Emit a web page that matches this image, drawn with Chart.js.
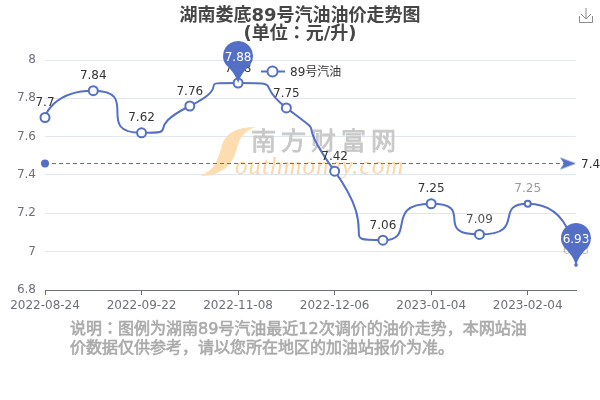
<!DOCTYPE html>
<html>
<head>
<meta charset="utf-8">
<title>湖南娄底89号汽油油价走势图</title>
<script src="https://cdn.jsdelivr.net/npm/chart.js@4/dist/chart.umd.js"></script>
<style>
    html, body { margin: 0; padding: 0; background: #fff; }
    canvas { display: block; }
</style>
</head>
<body>
<canvas id="oil-chart" width="600" height="400"></canvas>
<script>
// chart values
const dateLabels = ['2022-08-24', '', '2022-09-22', '', '2022-11-08', '', '2022-12-06', '', '2023-01-04', '', '2023-02-04', ''];
const priceValues = [7.7, 7.84, 7.62, 7.76, 7.88, 7.75, 7.42, 7.06, 7.25, 7.09, 7.25, 6.93];
const meanValues = [7.46, 7.46, 7.46, 7.46, 7.46, 7.46, 7.46, 7.46, 7.46, 7.46, 7.46, 7.46];
const meanLabel = '7.46';
const seriesName = '89号汽油';
const titleLines = ['湖南娄底89号汽油油价走势图', '(单位：元/升)'];
const noteLines = ['说明：图例为湖南89号汽油最近12次调价的油价走势，本网站油', '价数据仅供参考，请以您所在地区的加油站报价为准。'];

const BLUE = '#5470c6';
const FONT = '"DejaVu Sans", "Noto Sans CJK JP", sans-serif';
const SMOOTH = 1;
const maxIndex = priceValues.indexOf(Math.max(...priceValues));
const minIndex = priceValues.indexOf(Math.min(...priceValues));

// last points were still fading in on the reference
const labelAlpha = [1, 1, 1, 1, 1, 1, 1, 1, 1, 0.85, 0.5, 0.3];
const pointSizes = [4.5, 4.5, 4.5, 4.5, 4.5, 4.5, 4.5, 4.5, 4.5, 4.5, 3, 0.8];

function clamp(v, a, b) {
    return Math.max(Math.min(a, b), Math.min(v, Math.max(a, b)));
}

// arrow head for the end of the mean line, tip sits on the centre of the image
function makeArrow() {
    const c = document.createElement('canvas');
    c.width = 40;
    c.height = 16;
    const g = c.getContext('2d');
    g.fillStyle = BLUE;
    g.beginPath();
    g.moveTo(20, 8);
    g.lineTo(4, 2);
    g.lineTo(8, 8);
    g.lineTo(4, 14);
    g.closePath();
    g.fill();
    return c;
}
const arrowImage = makeArrow();

// same curve rule as the source chart: control points held between the neighbours
const smoothPlugin = {
    id: 'smoothPlugin',
    beforeDatasetsDraw(chart) {
        const meta = chart.getDatasetMeta(0);
        meta.dataset.updateControlPoints(chart.chartArea, 'x');
        const pts = meta.data;
        pts.forEach((p, i) => {
            // both ends of the line get no handle
            if (i === 0 || i === pts.length - 1) {
                p.cp1x = p.x; p.cp1y = p.y; p.cp2x = p.x; p.cp2y = p.y;
                return;
            }
            const prev = pts[i - 1];
            const next = pts[i + 1];
            const lenPrev = Math.hypot(p.x - prev.x, p.y - prev.y);
            const lenNext = Math.hypot(next.x - p.x, next.y - p.y);
            const ratio = lenNext / (lenPrev + lenNext);
            const vx = next.x - prev.x;
            const vy = next.y - prev.y;
            let ox = clamp(p.x + vx * SMOOTH * ratio, p.x, next.x);
            let oy = clamp(p.y + vy * SMOOTH * ratio, p.y, next.y);
            const ix = clamp(p.x - (ox - p.x) * lenPrev / lenNext, p.x, prev.x);
            const iy = clamp(p.y - (oy - p.y) * lenPrev / lenNext, p.y, prev.y);
            ox = p.x + (p.x - ix) * lenNext / lenPrev;
            oy = p.y + (p.y - iy) * lenNext / lenPrev;
            p.cp1x = ix; p.cp1y = iy; p.cp2x = ox; p.cp2y = oy;
        });
    }
};

// title is centred on the whole canvas, not on the padded area
const titlePlugin = {
    id: 'titlePlugin',
    afterLayout(chart) {
        chart.titleBlock.left = 0;
        chart.titleBlock.right = 600;
    }
};

// southmoney logo behind the lines
const watermarkPlugin = {
    id: 'watermarkPlugin',
    beforeDatasetsDraw(chart) {
        const ctx = chart.ctx;
        ctx.save();
        ctx.fillStyle = '#fddcb0';
        ctx.beginPath();
        ctx.moveTo(200, 176);
        ctx.bezierCurveTo(215, 170, 218, 160, 222, 145);
        ctx.bezierCurveTo(226, 132, 238, 127, 256, 127);
        ctx.bezierCurveTo(246, 130, 240, 136, 237, 148);
        ctx.bezierCurveTo(233, 165, 222, 176, 200, 176);
        ctx.fill();
        ctx.textAlign = 'left';
        ctx.textBaseline = 'alphabetic';
        ctx.font = 'italic 25px "Liberation Serif", serif';
        ctx.letterSpacing = '1px';
        ctx.fillStyle = '#fcd6a4';
        ctx.fillText('outhmoney.com', 235, 174);
        ctx.font = '25px ' + FONT;
        ctx.letterSpacing = '5px';
        ctx.fillStyle = '#c8c8c8';
        ctx.strokeStyle = '#c8c8c8';
        ctx.lineWidth = 0.8;
        ctx.fillText('南方财富网', 251, 150);
        ctx.strokeText('南方财富网', 251, 150);
        ctx.restore();
    }
};

function drawPin(ctx, x, y, text) {
    const r = 15;
    const cy = y - 27;
    ctx.fillStyle = BLUE;
    ctx.beginPath();
    ctx.arc(x, cy, r, Math.PI * 0.8, Math.PI * 0.2);
    ctx.quadraticCurveTo(x + 3, cy + 17, x, y);
    ctx.quadraticCurveTo(x - 3, cy + 17, x - r * Math.cos(Math.PI * 0.2), cy + r * Math.sin(Math.PI * 0.2));
    ctx.closePath();
    ctx.fill();
    ctx.fillStyle = '#fff';
    ctx.font = '12px ' + FONT;
    ctx.textAlign = 'center';
    ctx.textBaseline = 'middle';
    ctx.fillText(text, x, cy + 2);
}

// value labels, pins, legend, note and the save icon
const decorPlugin = {
    id: 'decorPlugin',
    afterDatasetsDraw(chart) {
        const ctx = chart.ctx;
        const xScale = chart.scales.x;
        const yScale = chart.scales.y;
        ctx.save();

        ctx.font = '12px ' + FONT;
        ctx.textAlign = 'center';
        ctx.textBaseline = 'middle';
        ctx.fillStyle = '#333';
        priceValues.forEach((v, i) => {
            ctx.globalAlpha = labelAlpha[i];
            ctx.fillText(String(v), xScale.getPixelForValue(i), yScale.getPixelForValue(v) - 14.5);
        });
        ctx.globalAlpha = 1;

        ctx.textAlign = 'left';
        ctx.fillText(meanLabel, xScale.right + 5, yScale.getPixelForValue(meanValues[0]) + 1);

        drawPin(ctx, xScale.getPixelForValue(maxIndex), yScale.getPixelForValue(priceValues[maxIndex]), String(priceValues[maxIndex]));
        drawPin(ctx, xScale.getPixelForValue(minIndex), yScale.getPixelForValue(priceValues[minIndex]), String(priceValues[minIndex]));

        // legend
        ctx.strokeStyle = BLUE;
        ctx.lineWidth = 2;
        ctx.beginPath();
        ctx.moveTo(261, 71.5);
        ctx.lineTo(285, 71.5);
        ctx.stroke();
        ctx.fillStyle = '#fff';
        ctx.beginPath();
        ctx.arc(272.5, 71.5, 5, 0, Math.PI * 2);
        ctx.fill();
        ctx.stroke();
        ctx.fillStyle = '#333';
        ctx.font = '12px ' + FONT;
        ctx.textAlign = 'left';
        ctx.fillText(seriesName, 290, 73);

        // note under the chart, thin stroke thickens the regular weight
        ctx.fillStyle = '#aaa';
        ctx.strokeStyle = '#aaa';
        ctx.lineWidth = 0.6;
        ctx.font = '16px ' + FONT;
        noteLines.forEach((line, i) => {
            ctx.fillText(line, 70, 330 + i * 19);
            ctx.strokeText(line, 70, 330 + i * 19);
        });

        // download icon
        ctx.strokeStyle = '#8a8a8a';
        ctx.lineWidth = 1;
        ctx.beginPath();
        ctx.moveTo(579.5, 16);
        ctx.lineTo(579.5, 22.5);
        ctx.lineTo(592.5, 22.5);
        ctx.lineTo(592.5, 16);
        ctx.moveTo(586, 8);
        ctx.lineTo(586, 19);
        ctx.moveTo(581, 14);
        ctx.lineTo(586, 19);
        ctx.lineTo(591, 14);
        ctx.stroke();

        ctx.restore();
    }
};

const chart = new Chart(document.getElementById('oil-chart'), {
    type: 'line',
    data: {
        labels: dateLabels,
        datasets: [
            {
                label: seriesName,
                data: priceValues,
                borderColor: BLUE,
                borderWidth: 2,
                tension: 0.5,
                pointBackgroundColor: ctx => ctx.dataIndex === minIndex ? BLUE : '#fff',
                pointBorderColor: BLUE,
                pointBorderWidth: 2,
                pointRadius: pointSizes
            },
            {
                label: '平均值',
                data: meanValues,
                borderColor: BLUE,
                borderWidth: 1,
                borderDash: [4, 3],
                tension: 0,
                pointStyle: ctx => ctx.dataIndex === meanValues.length - 1 ? arrowImage : 'circle',
                pointBackgroundColor: BLUE,
                pointBorderWidth: 0,
                pointRadius: ctx => (ctx.dataIndex === 0 || ctx.dataIndex === meanValues.length - 1) ? 4 : 0
            }
        ]
    },
    options: {
        responsive: false,
        animation: false,
        layout: { padding: { right: 24 } },
        events: [],
        scales: {
            x: {
                offset: false,
                afterBuildTicks: scale => { scale.ticks = scale.ticks.filter(t => dateLabels[t.value] !== ''); },
                afterFit: scale => { scale.height = 110; },
                border: { color: '#6e7079' },
                grid: { drawOnChartArea: false, tickColor: '#6e7079', tickLength: 5 },
                ticks: {
                    autoSkip: false,
                    maxRotation: 0,
                    color: '#6e7079',
                    padding: 4,
                    font: { family: FONT, size: 12 }
                }
            },
            y: {
                min: 6.8,
                max: 8,
                afterFit: scale => { scale.width = 45; },
                border: { display: false },
                grid: { color: '#e0e6f1', drawTicks: false },
                ticks: {
                    stepSize: 0.2,
                    color: '#6e7079',
                    padding: 9,
                    font: { family: FONT, size: 12 },
                    callback: value => String(Number(value.toFixed(1)))
                }
            }
        },
        plugins: {
            legend: { display: false },
            tooltip: { enabled: false },
            title: {
                display: true,
                text: titleLines,
                color: '#464646',
                font: { family: FONT, size: 18, weight: 'bold', lineHeight: 1 },
                padding: { top: 7, bottom: 17 }
            }
        }
    },
    plugins: [titlePlugin, watermarkPlugin, smoothPlugin, decorPlugin]
});
</script>
</body>
</html>
